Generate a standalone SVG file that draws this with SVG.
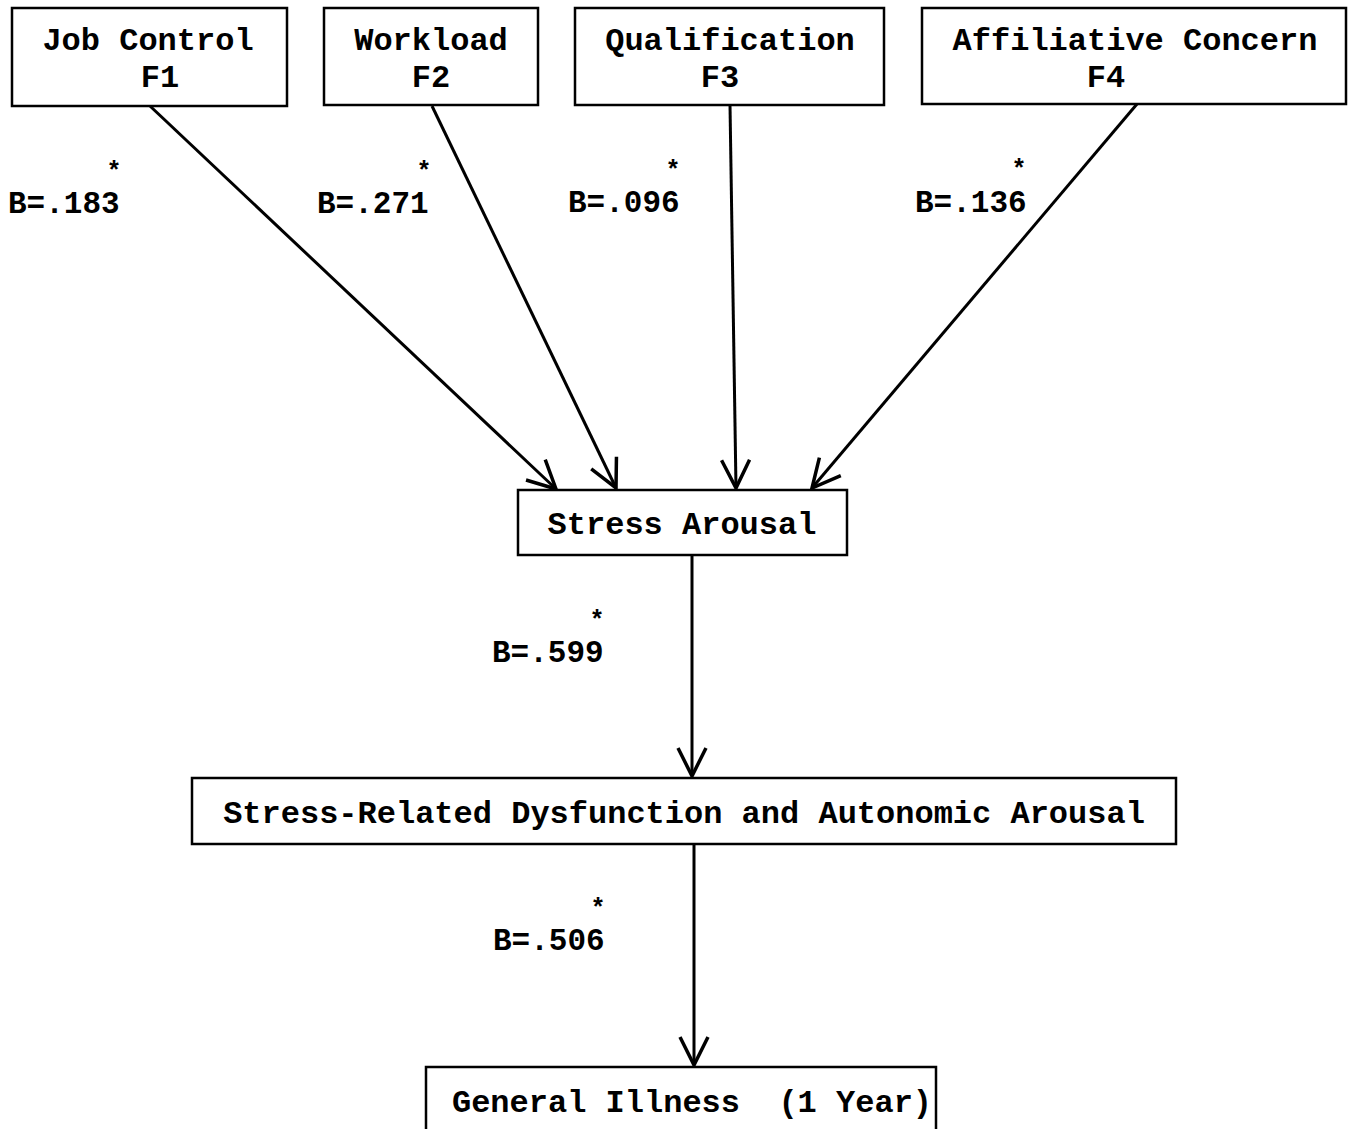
<svg xmlns="http://www.w3.org/2000/svg" width="1349" height="1129" viewBox="0 0 1349 1129">
<style>
.box{fill:#fff;stroke:#000;stroke-width:2.5}
.t{font-family:"Liberation Mono","Courier New",monospace;font-weight:bold;font-size:32px;fill:#000;text-anchor:middle}
.b{font-family:"Liberation Mono","Courier New",monospace;font-weight:bold;font-size:31px;fill:#000;text-anchor:start}
.s{font-family:"Liberation Mono","Courier New",monospace;font-weight:bold;font-size:25px;fill:#000;text-anchor:middle}
.c{stroke:#000;stroke-width:3;fill:none;marker-end:url(#ah)}
</style>
<defs>
<marker id="ah" markerUnits="userSpaceOnUse" markerWidth="40" markerHeight="40" viewBox="-32 -20 36 40" refX="0" refY="0" orient="auto">
<path d="M-28,-14 L0,0 L-28,14" fill="none" stroke="#000" stroke-width="3.5"/>
</marker>
</defs>
<rect width="1349" height="1129" fill="#fff"/>
<g id="connectors">
<line class="c" x1="150" y1="106" x2="556" y2="489"/>
<line class="c" x1="432" y1="106" x2="616" y2="488"/>
<line class="c" x1="730" y1="105" x2="736" y2="488"/>
<line class="c" x1="1137" y1="104" x2="812" y2="488"/>
<line class="c" x1="692" y1="555" x2="692" y2="776"/>
<line class="c" x1="694" y1="844" x2="694" y2="1065"/>
</g>
<g id="labels">
<text class="b" x="8" y="213">B=.183</text><text class="s" x="114" y="179">*</text>
<text class="b" x="317" y="213">B=.271</text><text class="s" x="424" y="179">*</text>
<text class="b" x="568" y="212">B=.096</text><text class="s" x="673" y="178">*</text>
<text class="b" x="915" y="212">B=.136</text><text class="s" x="1019" y="177">*</text>
<text class="b" x="492" y="662">B=.599</text><text class="s" x="597" y="628">*</text>
<text class="b" x="493" y="950">B=.506</text><text class="s" x="598" y="916">*</text>
</g>
<g id="job-control">
<rect class="box" x="12" y="8" width="275" height="98"/>
<text class="t" x="148" y="50">Job Control</text>
<text class="t" x="160" y="87">F1</text>
</g>
<g id="workload">
<rect class="box" x="324" y="8" width="214" height="97"/>
<text class="t" x="431" y="50">Workload</text>
<text class="t" x="431" y="87">F2</text>
</g>
<g id="qualification">
<rect class="box" x="575" y="8" width="309" height="97"/>
<text class="t" x="730" y="50">Qualification</text>
<text class="t" x="720" y="87">F3</text>
</g>
<g id="affiliative-concern">
<rect class="box" x="922" y="8" width="424" height="96"/>
<text class="t" x="1135" y="50">Affiliative Concern</text>
<text class="t" x="1106" y="87">F4</text>
</g>
<g id="stress-arousal">
<rect class="box" x="518" y="490" width="329" height="65"/>
<text class="t" x="682" y="534">Stress Arousal</text>
</g>
<g id="dysfunction">
<rect class="box" x="192" y="778" width="984" height="66"/>
<text class="t" x="684" y="823">Stress-Related Dysfunction and Autonomic Arousal</text>
</g>
<g id="general-illness">
<rect class="box" x="426" y="1067" width="510" height="80"/>
<text class="t" x="692" y="1112" xml:space="preserve">General Illness  (1 Year)</text>
</g>
</svg>
